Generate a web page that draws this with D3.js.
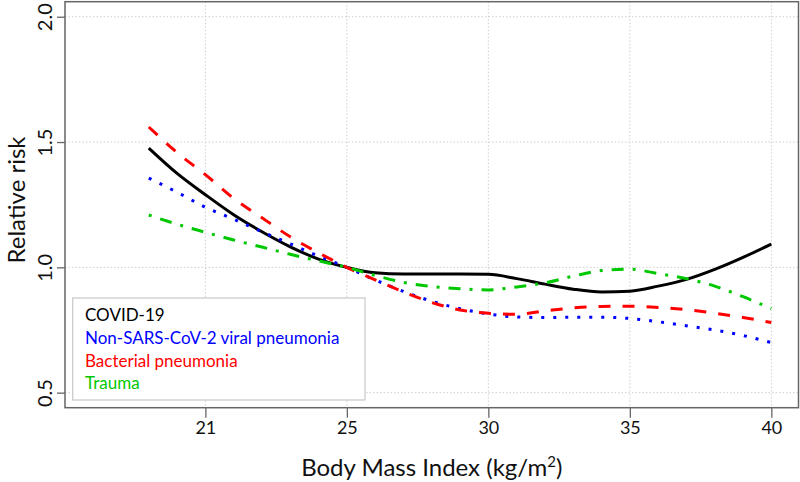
<!DOCTYPE html>
<html>
<head>
<meta charset="utf-8">
<script src="https://cdn.jsdelivr.net/npm/d3@7"></script>
<style>
  html, body { margin: 0; padding: 0; background: #fff; }
  svg { display: block; }
  text { font-family: Lato, "Open Sans", sans-serif; }
</style>
</head>
<body>
<svg id="chart" width="800" height="482"></svg>
<script>
// ---- Data ----
const bmi = [18, 19, 20, 21, 22, 23, 24, 25, 26, 27, 28, 29, 30, 31, 32, 33, 34, 35, 36, 37, 38, 39, 40];
const covid19 =   [1.476, 1.375, 1.290, 1.210, 1.142, 1.082, 1.033, 1.000, 0.978, 0.973, 0.973, 0.973, 0.972, 0.955, 0.933, 0.913, 0.902, 0.905, 0.925, 0.952, 0.992, 1.040, 1.093];
const nonSarsViral = [1.356, 1.300, 1.240, 1.192, 1.142, 1.094, 1.045, 1.000, 0.950, 0.904, 0.865, 0.835, 0.814, 0.802, 0.800, 0.801, 0.801, 0.796, 0.783, 0.767, 0.750, 0.728, 0.700];
const bacterial = [1.560, 1.458, 1.370, 1.275, 1.198, 1.122, 1.058, 1.000, 0.950, 0.902, 0.860, 0.830, 0.817, 0.813, 0.826, 0.838, 0.844, 0.845, 0.840, 0.831, 0.817, 0.800, 0.780];
const trauma =    [1.209, 1.172, 1.140, 1.109, 1.081, 1.052, 1.026, 1.000, 0.968, 0.940, 0.924, 0.915, 0.910, 0.922, 0.938, 0.965, 0.987, 0.993, 0.975, 0.955, 0.925, 0.883, 0.835];

const seriesNames = ["COVID-19", "Non-SARS-CoV-2 viral pneumonia", "Bacterial pneumonia", "Trauma"];
const seriesValues = [covid19, nonSarsViral, bacterial, trauma];
const seriesColors = ["#000000", "#0000ff", "#ff0000", "#00c800"];
const seriesDash = [null, "3,9", "12,12", "3,9,12,9"];

const xTickValues = [20, 25, 30, 35, 40];
const xTickLabels = ["21", "25", "30", "35", "40"];
const yTickValues = [0.5, 1.0, 1.5, 2.0];
const yTickLabels = ["0.5", "1.0", "1.5", "2.0"];

// ---- Layout ----
const svg = d3.select("#chart");
const plot = { left: 65, right: 798.5, top: 1.7, bottom: 407.7 };

const x = d3.scaleLinear().domain([15.04, 40.96]).range([plot.left, plot.right]);
const y = d3.scaleLinear().domain([0.44, 2.06]).range([plot.bottom, plot.top]);

// grid
const grid = svg.append("g");
grid.selectAll("line.gx").data(xTickValues).join("line")
  .attr("x1", d => x(d)).attr("x2", d => x(d))
  .attr("y1", plot.top).attr("y2", plot.bottom)
  .attr("stroke", "#cfcfcf").attr("stroke-width", 1).attr("stroke-dasharray", "1.5,2");
grid.selectAll("line.gy").data(yTickValues).join("line")
  .attr("x1", plot.left).attr("x2", plot.right)
  .attr("y1", d => y(d)).attr("y2", d => y(d))
  .attr("stroke", "#cfcfcf").attr("stroke-width", 1).attr("stroke-dasharray", "1.5,2");

// lines
const line = d3.line().x((d, i) => x(bmi[i])).y(d => y(d)).curve(d3.curveMonotoneX);
seriesValues.forEach((vals, k) => {
  const p = svg.append("path")
    .datum(vals)
    .attr("d", line)
    .attr("fill", "none")
    .attr("stroke", seriesColors[k])
    .attr("stroke-width", 3);
  if (seriesDash[k]) p.attr("stroke-dasharray", seriesDash[k]);
});

// axes
const xAxis = d3.axisBottom(x).tickValues(xTickValues)
  .tickFormat((d, i) => xTickLabels[i]).tickSize(10).tickSizeOuter(0).tickPadding(4);
const gx = svg.append("g").attr("transform", `translate(0,${plot.bottom})`).call(xAxis);
gx.select(".domain").remove();
gx.selectAll(".tick line").attr("stroke", "#666").attr("stroke-width", 1.3);
gx.selectAll(".tick text").attr("font-size", 18).attr("fill", "#111")
  .attr("font-family", "Lato, 'Open Sans', sans-serif");

const yAxis = d3.axisLeft(y).tickValues(yTickValues)
  .tickFormat((d, i) => yTickLabels[i]).tickSize(8).tickSizeOuter(0);
const gy = svg.append("g").attr("transform", `translate(${plot.left},0)`).call(yAxis);
gy.select(".domain").remove();
gy.selectAll(".tick line").attr("stroke", "#666").attr("stroke-width", 1.3);
gy.selectAll(".tick text")
  .attr("font-size", 20).attr("fill", "#111")
  .attr("font-family", "Lato, 'Open Sans', sans-serif")
  .attr("x", null).attr("dy", null)
  .attr("text-anchor", "middle")
  .attr("transform", "translate(-13,0) rotate(-90)");

// frame
svg.append("rect")
  .attr("x", plot.left).attr("y", plot.top)
  .attr("width", plot.right - plot.left).attr("height", plot.bottom - plot.top)
  .attr("fill", "none").attr("stroke", "#666").attr("stroke-width", 1.5);

// axis titles
const xt = svg.append("text")
  .attr("x", (plot.left + plot.right) / 2).attr("y", 476)
  .attr("text-anchor", "middle").attr("font-size", 24).attr("fill", "#111");
xt.append("tspan").text("Body Mass Index (kg/m");
xt.append("tspan").attr("font-size", 15).attr("dy", -9).text("2");
xt.append("tspan").attr("dy", 9).text(")");

svg.append("text")
  .attr("transform", `translate(25,200) rotate(-90)`)
  .attr("text-anchor", "middle").attr("font-size", 24).attr("fill", "#111")
  .text("Relative risk");

// legend
const lg = svg.append("g");
lg.append("rect").attr("x", 72.7).attr("y", 298).attr("width", 292.3).attr("height", 102)
  .attr("fill", "#fff").attr("stroke", "#cccccc").attr("stroke-width", 1.3);
lg.selectAll("text").data(seriesNames).join("text")
  .attr("x", 85).attr("y", (d, i) => 320.7 + i * 22.9)
  .attr("font-size", 17).attr("fill", (d, i) => seriesColors[i])
  .text(d => d);
</script>
</body>
</html>
